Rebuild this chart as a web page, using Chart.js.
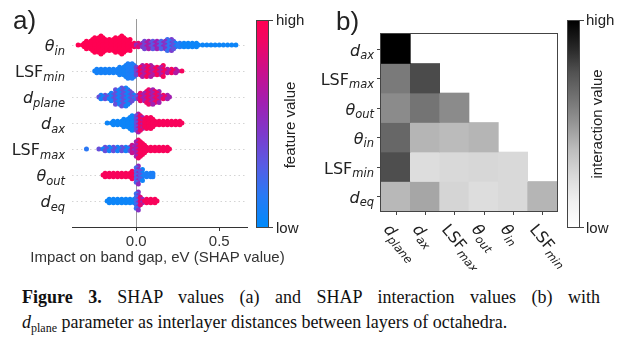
<!DOCTYPE html>
<html>
<head>
<meta charset="utf-8">
<script src="https://cdn.jsdelivr.net/npm/chart.js@4.4.1/dist/chart.umd.min.js"></script>
<style>
  body { margin: 0; background: #fff; width: 622px; height: 344px; position: relative; overflow: hidden;
         font-family: "Liberation Sans", Arial, sans-serif; color: #222; }
  .abs { position: absolute; }
  .panel { font-size: 26px; line-height: 26px; }
  .cbar { width: 11px; height: 206px; border: 1px solid #444; }
  .cblab { font-size: 15px; line-height: 18px; white-space: nowrap; }
  .cbtick { width: 4px; height: 1px; background: #444; }
  .rot { font-size: 15px; white-space: nowrap; transform: translate(-50%, -50%) rotate(-90deg); }
  .cap { font-family: "Liberation Serif", "Times New Roman", serif; font-size: 18px; line-height: 25px; color: #111; white-space: nowrap; }
  .cap sub { font-size: 12px; vertical-align: -4px; line-height: 0; }
</style>
</head>
<body>
<canvas id="shapChart" class="abs" width="300" height="270" style="left:0;top:0"></canvas>
<canvas id="heatChart" class="abs" width="300" height="270" style="left:300px;top:0"></canvas>

<div class="abs panel" style="left:13px;top:7px">a)</div>
<div class="abs panel" style="left:336px;top:8px">b)</div>

<div id="cbarA" class="abs cbar" style="left:256px;top:20px"></div>
<div class="abs cbtick" style="left:269px;top:20px"></div>
<div class="abs cbtick" style="left:269px;top:227px"></div>
<div class="abs cblab" style="left:276px;top:11px">high</div>
<div class="abs cblab" style="left:276px;top:219px">low</div>
<div class="abs rot" style="left:289px;top:125px">feature value</div>

<div id="cbarB" class="abs cbar" style="left:567px;top:20px"></div>
<div class="abs cbtick" style="left:580px;top:20px"></div>
<div class="abs cbtick" style="left:580px;top:227px"></div>
<div class="abs cblab" style="left:586px;top:11px">high</div>
<div class="abs cblab" style="left:586px;top:219px">low</div>
<div class="abs rot" style="left:596px;top:124px">interaction value</div>

<div class="abs cap" style="left:22px;top:285px;width:578px;text-align:justify;text-align-last:justify"><b>Figure 3.</b> SHAP values (a) and SHAP interaction values (b) with</div>
<div class="abs cap" style="left:22px;top:310px"><i>d</i><sub>plane</sub> parameter as interlayer distances between layers of octahedra.</div>

<script>
// ---- panel a: SHAP beeswarm ----
const shapFeatures = ['θ_in', 'LSF_min', 'd_plane', 'd_ax', 'LSF_max', 'θ_out', 'd_eq'];
const shapTicks = [0, 0.5];
const shapTitle = 'Impact on band gap, eV (SHAP value)';
// x positions of the swarm columns (SHAP value, eV)
const shapX = [-0.35, -0.325, -0.3, -0.275, -0.25, -0.225, -0.2, -0.175, -0.15, -0.125,
  -0.1, -0.075, -0.05, -0.025, 0, 0.025, 0.05, 0.075, 0.1, 0.125,
  0.15, 0.175, 0.2, 0.225, 0.25, 0.275, 0.3, 0.325, 0.35, 0.375,
  0.4, 0.425, 0.45, 0.475, 0.5, 0.525, 0.55, 0.575, 0.6, 0.625];

// half height of the swarm at each column, in rows
const spreadThetaIn = [0.10, 0.15, 0.23, 0.31, 0.40, 0.44, 0.37, 0.29, 0.27, 0.35,
  0.44, 0.38, 0.27, 0.19, 0.17, 0.19, 0.21, 0.25, 0.25, 0.23,
  0.23, 0.27, 0.27, 0.23, 0.19, 0.17, 0.15, 0.13, 0.13, 0.12,
  0.12, 0.12, 0.10, 0.10, 0.10, 0.10, 0.08, 0.08, 0.08, 0];
const spreadLsfMin = [0, 0, 0, 0, 0.13, 0.17, 0.19, 0.19, 0.19, 0.19,
  0.21, 0.27, 0.40, 0.35, 0.23, 0.27, 0.33, 0.27, 0.23, 0.25,
  0.27, 0.19, 0.15, 0.13, 0.12, 0.10, 0, 0, 0, 0,
  0, 0, 0, 0, 0, 0, 0, 0, 0, 0];
const spreadDPlane = [0, 0, 0, 0, 0, 0.13, 0.15, 0.17, 0.23, 0.35,
  0.44, 0.42, 0.35, 0.23, 0.19, 0.23, 0.31, 0.37, 0.37, 0.31,
  0.19, 0.13, 0.12, 0, 0, 0, 0, 0, 0, 0,
  0, 0, 0, 0, 0, 0, 0, 0, 0, 0];
const spreadDAx = [0, 0, 0, 0, 0, 0, 0, 0.12, 0.13, 0.17,
  0.19, 0.23, 0.27, 0.35, 0.46, 0.38, 0.33, 0.27, 0.23, 0.19,
  0.17, 0.15, 0.15, 0.13, 0.13, 0.12, 0, 0, 0, 0,
  0, 0, 0, 0, 0, 0, 0, 0, 0, 0];
const spreadLsfMax = [0, 0, 0.08, 0, 0, 0.12, 0.13, 0.13, 0.13, 0.13,
  0.13, 0.15, 0.15, 0.23, 0.46, 0.35, 0.21, 0.17, 0.15, 0.15,
  0.15, 0.13, 0.12, 0, 0, 0, 0, 0, 0, 0,
  0, 0, 0, 0, 0, 0, 0, 0, 0, 0];
const spreadThetaOut = [0, 0, 0, 0, 0, 0, 0.13, 0.15, 0.15, 0.15,
  0.17, 0.17, 0.19, 0.23, 0.44, 0.31, 0.19, 0.15, 0.13, 0,
  0, 0, 0, 0, 0, 0, 0, 0, 0, 0,
  0, 0, 0, 0, 0, 0, 0, 0, 0, 0];
const spreadDEq = [0, 0, 0, 0, 0, 0, 0, 0.13, 0.13, 0.13,
  0.13, 0.15, 0.15, 0.19, 0.42, 0.23, 0.15, 0.13, 0.13, 0.12,
  0, 0, 0, 0, 0, 0, 0, 0, 0, 0,
  0, 0, 0, 0, 0, 0, 0, 0, 0, 0];

// feature value (0 = low, 1 = high) of the points in each column
const colorThetaIn = [1, 1, 1, 1, 1, 1, 1, 1, 1, 1,
  1, 1, 1, 0.95, 0.7, 0.6, 0.55, 0.5, 0.45, 0.45,
  0.4, 0.35, 0.3, 0.2, 0.15, 0.05, 0.05, 0.05, 0.05, 0.05,
  0.05, 0.05, 0.05, 0.05, 0.05, 0.05, 0.05, 0.05, 0.05, 0.05];
const colorLsfMin = [0, 0, 0, 0, 0.08, 0.08, 0.08, 0.08, 0.08, 0.08,
  0.08, 0.08, 0.1, 0.12, 0.55, 0.8, 0.8, 0.8, 0.8, 0.8,
  0.8, 0.8, 0.8, 0.8, 0.8, 0.8, 0, 0, 0, 0,
  0, 0, 0, 0, 0, 0, 0, 0, 0, 0];
const colorDPlane = [0, 0, 0, 0, 0, 0.22, 0.22, 0.22, 0.22, 0.22,
  0.22, 0.22, 0.22, 0.22, 0.45, 0.75, 0.75, 0.75, 0.75, 0.75,
  0.75, 0.75, 0.75, 0, 0, 0, 0, 0, 0, 0,
  0, 0, 0, 0, 0, 0, 0, 0, 0, 0];
const colorDAx = [0, 0, 0, 0, 0, 0, 0, 0.05, 0.05, 0.05,
  0.05, 0.05, 0.05, 0.05, 0.5, 0.75, 0.95, 0.95, 0.95, 0.95,
  0.95, 0.95, 0.95, 0.95, 0.95, 0.95, 0, 0, 0, 0,
  0, 0, 0, 0, 0, 0, 0, 0, 0, 0];
const colorLsfMax = [0, 0, 0.3, 0, 0, 0.22, 0.22, 0.22, 0.22, 0.22,
  0.22, 0.22, 0.22, 0.6, 0.75, 0.95, 0.95, 0.95, 0.95, 0.95,
  0.95, 0.95, 0.95, 0, 0, 0, 0, 0, 0, 0,
  0, 0, 0, 0, 0, 0, 0, 0, 0, 0];
const colorThetaOut = [0, 0, 0, 0, 0, 0, 0.95, 0.95, 0.95, 0.95,
  0.95, 0.95, 0.95, 0.95, 0.4, 0.2, 0.1, 0.1, 0.1, 0,
  0, 0, 0, 0, 0, 0, 0, 0, 0, 0,
  0, 0, 0, 0, 0, 0, 0, 0, 0, 0];
const colorDEq = [0, 0, 0, 0, 0, 0, 0, 0.05, 0.05, 0.05,
  0.05, 0.05, 0.05, 0.05, 0.35, 0.7, 0.95, 0.95, 0.95, 0.95,
  0, 0, 0, 0, 0, 0, 0, 0, 0, 0,
  0, 0, 0, 0, 0, 0, 0, 0, 0, 0];

// ---- panel b: interaction heatmap (lower triangle, rows top to bottom) ----
const heatCols = ['d_plane', 'd_ax', 'LSF_max', 'θ_out', 'θ_in', 'LSF_min'];
const heatRows = ['d_ax', 'LSF_max', 'θ_out', 'θ_in', 'LSF_min', 'd_eq'];
const interDAx = [1.00];
const interLsfMax = [0.60, 0.77];
const interThetaOut = [0.54, 0.62, 0.54];
const interThetaIn = [0.67, 0.40, 0.38, 0.40];
const interLsfMin = [0.76, 0.23, 0.25, 0.26, 0.25];
const interDEq = [0.39, 0.45, 0.27, 0.23, 0.25, 0.40];

const shapSpreads = [spreadThetaIn, spreadLsfMin, spreadDPlane, spreadDAx, spreadLsfMax, spreadThetaOut, spreadDEq];
const shapColors = [colorThetaIn, colorLsfMin, colorDPlane, colorDAx, colorLsfMax, colorThetaOut, colorDEq];
const heatValues = [interDAx, interLsfMax, interThetaOut, interThetaIn, interLsfMin, interDEq];

const textFont = '"Liberation Sans", Arial, sans-serif';
const mathFont = '"DejaVu Sans", sans-serif';

const redBlue = [
  [0.00, [0, 138, 250]], [0.15, [40, 122, 245]], [0.30, [88, 92, 228]], [0.45, [124, 58, 204]],
  [0.60, [160, 32, 178]], [0.75, [200, 16, 142]], [0.90, [240, 6, 100]], [1.00, [255, 0, 82]]
];
const greys = [
  [0, [255, 255, 255]], [0.125, [240, 240, 240]], [0.25, [217, 217, 217]], [0.375, [189, 189, 189]],
  [0.5, [150, 150, 150]], [0.625, [115, 115, 115]], [0.75, [82, 82, 82]], [0.875, [37, 37, 37]], [1, [0, 0, 0]]
];

function cmap(stops, v) {
  v = Math.max(0, Math.min(1, v));
  for (let i = 1; i < stops.length; i++) {
    if (v <= stops[i][0]) {
      const t = (v - stops[i - 1][0]) / (stops[i][0] - stops[i - 1][0]);
      const a = stops[i - 1][1], b = stops[i][1];
      return 'rgb(' + a.map((c, k) => Math.round(c + (b[k] - c) * t)).join(',') + ')';
    }
  }
  return 'rgb(' + stops[stops.length - 1][1].join(',') + ')';
}

function gradientCss(stops) {
  return 'linear-gradient(to top, ' + stops.map(s => 'rgb(' + s[1].join(',') + ') ' + (s[0] * 100) + '%').join(', ') + ')';
}
document.getElementById('cbarA').style.background = gradientCss(redBlue);
document.getElementById('cbarB').style.background = gradientCss(greys);

// label like 'LSF_min' -> LSF with italic subscript
function drawLabel(ctx, label, x, yc, align) {
  const parts = label.split('_');
  const mainFont = (parts[0] === 'LSF' ? '' : 'italic ') + '16px ' + mathFont;
  const subFont = 'italic 11.5px ' + mathFont;
  ctx.font = mainFont;
  const mw = ctx.measureText(parts[0]).width;
  ctx.font = subFont;
  const sw = ctx.measureText(parts[1]).width;
  const x0 = align === 'right' ? x - mw - sw : x;
  ctx.textAlign = 'left';
  ctx.textBaseline = 'alphabetic';
  ctx.font = mainFont;
  ctx.fillText(parts[0], x0, yc + 6);
  ctx.font = subFont;
  ctx.fillText(parts[1], x0 + mw, yc + 9.5);
}

// stack dots in every column; odd layers sit half a column to the right
function swarmDataset(idx) {
  const row = shapFeatures.length - 1 - idx;
  const spread = shapSpreads[idx], colour = shapColors[idx];
  const half = (shapX[1] - shapX[0]) / 2;
  const pts = [], cols = [];
  shapX.forEach((x, i) => {
    const h = spread[i];
    if (!h) return;
    const n = Math.max(0, Math.round((h - 0.09) / 0.07));
    const shift = spread[i + 1] ? half : 0;
    for (let k = n; k >= -n; k--) {
      const odd = Math.abs(k) % 2 === 1;
      pts.push({ x: odd ? x + shift : x, y: row + k * 0.07 });
      let v = colour[i];
      if (v > 0.15 && v < 0.85) v += (k + i) % 2 ? 0.14 : -0.14;
      cols.push(cmap(redBlue, v));
    }
  });
  return {
    data: pts,
    pointBackgroundColor: cols,
    pointRadius: 2.5,
    pointBorderWidth: 0,
    pointHoverRadius: 0
  };
}

const shapLabels = {
  id: 'shapLabels',
  afterDraw(chart) {
    const { ctx, chartArea, scales } = chart;
    ctx.save();
    ctx.fillStyle = '#222';
    shapFeatures.forEach((f, i) => {
      drawLabel(ctx, f, chartArea.left - 7, scales.y.getPixelForValue(shapFeatures.length - 1 - i), 'right');
    });
    ctx.font = '15px ' + textFont;
    ctx.fillStyle = '#333';
    ctx.textAlign = 'center';
    ctx.textBaseline = 'middle';
    ctx.fillText(shapTitle, (chartArea.left + chartArea.right) / 2 - 2, chartArea.bottom + 31);
    ctx.restore();
  }
};

new Chart(document.getElementById('shapChart'), {
  type: 'scatter',
  data: { datasets: shapFeatures.map((f, i) => swarmDataset(i)) },
  options: {
    responsive: false,
    animation: false,
    devicePixelRatio: 1,
    layout: { padding: { left: 0, right: 53, top: 19, bottom: 0 } },
    plugins: { legend: { display: false }, tooltip: { enabled: false } },
    scales: {
      x: {
        type: 'linear', min: -0.387, max: 0.667,
        afterBuildTicks: s => { s.ticks = shapTicks.map(v => ({ value: v })); },
        afterFit: s => { s.height = 43; },
        ticks: { callback: v => v.toFixed(1), font: { family: textFont, size: 15 }, color: '#333', padding: 2, maxRotation: 0 },
        grid: {
          color: c => (c.tick && c.tick.value === 0 ? '#9a9a9a' : 'rgba(0,0,0,0)'),
          tickColor: '#333', tickLength: 4
        },
        border: { display: true, color: '#333' }
      },
      y: {
        type: 'linear', min: -1, max: 7,
        afterBuildTicks: s => { s.ticks = shapFeatures.map((f, i) => ({ value: i })); },
        afterFit: s => { s.width = 72; },
        ticks: { display: false },
        grid: { color: '#d4d4d4', drawTicks: false },
        border: { display: false, dash: [1.5, 3] }
      }
    }
  },
  plugins: [shapLabels]
});

const heatLabels = {
  id: 'heatLabels',
  afterDraw(chart) {
    const { ctx, chartArea: a, scales } = chart;
    ctx.save();
    ctx.strokeStyle = '#444';
    ctx.lineWidth = 1;
    ctx.strokeRect(Math.round(a.left) - 0.5, Math.round(a.top) - 0.5, Math.round(a.right - a.left) + 1, Math.round(a.bottom - a.top) + 1);
    ctx.fillStyle = '#222';
    heatRows.forEach((r, i) => {
      const py = Math.round(scales.y.getPixelForValue(heatRows.length - 0.5 - i)) + 0.5;
      ctx.beginPath(); ctx.moveTo(a.left - 4, py); ctx.lineTo(a.left, py); ctx.stroke();
      drawLabel(ctx, r, a.left - 7, py, 'right');
    });
    heatCols.forEach((c, j) => {
      const px = Math.round(scales.x.getPixelForValue(j)) + 0.5;
      ctx.beginPath(); ctx.moveTo(px, a.bottom); ctx.lineTo(px, a.bottom + 4); ctx.stroke();
      ctx.save();
      ctx.translate(px - 9, a.bottom + 15);
      ctx.rotate(50 * Math.PI / 180);
      drawLabel(ctx, c, 0, 0, 'left');
      ctx.restore();
    });
    ctx.restore();
  }
};

new Chart(document.getElementById('heatChart'), {
  type: 'bar',
  data: {
    labels: heatCols,
    datasets: heatRows.map((r, i) => ({
      data: heatCols.map((c, j) => (j < heatValues[i].length ? [heatRows.length - 1 - i, heatRows.length - i] : null)),
      backgroundColor: heatCols.map((c, j) => cmap(greys, j < heatValues[i].length ? heatValues[i][j] : 0)),
      grouped: false,
      barPercentage: 1,
      categoryPercentage: 1,
      borderWidth: 0
    }))
  },
  options: {
    responsive: false,
    animation: false,
    devicePixelRatio: 1,
    layout: { padding: { left: 81, right: 43, top: 34, bottom: 59 } },
    plugins: { legend: { display: false }, tooltip: { enabled: false } },
    scales: {
      x: { display: false },
      y: { display: false, min: 0, max: 6 }
    }
  },
  plugins: [heatLabels]
});
</script>
</body>
</html>
